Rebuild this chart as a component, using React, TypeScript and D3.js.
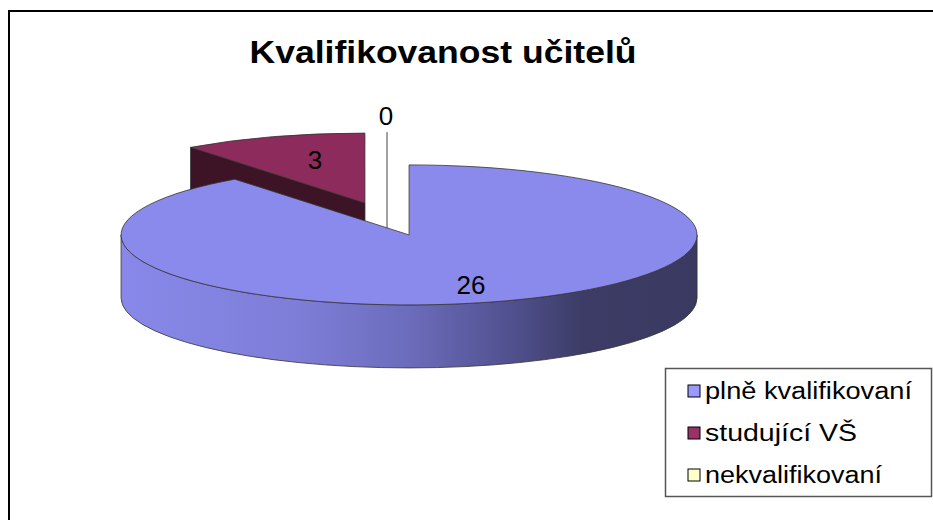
import React from "react";
import * as d3 from "d3";

const title = "Kvalifikovanost učitelů";
const categories = ["plně kvalifikovaní", "studující VŠ", "nekvalifikovaní"];
const values = [26, 3, 0];
const topColors = ["#8a8aec", "#8d2b5c", "#ffffcc"];
const legendColors = ["#9999ff", "#993366", "#ffffcc"];
const legendWidths = [207, 152, 177];

const W = 933;
const H = 520;
const CX = 387;
const CY = 219;
const RX = 288;
const RY = 70;
const T = 63;
const EXPLODE = 0.24;

function pt(cx: number, cy: number, a: number, k = 1) {
  return [cx + RX * k * Math.sin(a), cy - RY * k * Math.cos(a)];
}

function topPath(cx: number, cy: number, a0: number, a1: number) {
  const [x0, y0] = pt(cx, cy, a0);
  const [x1, y1] = pt(cx, cy, a1);
  const large = a1 - a0 > Math.PI ? 1 : 0;
  return `M${cx},${cy} L${x0},${y0} A${RX},${RY} 0 ${large} 1 ${x1},${y1} Z`;
}

function wallPath(cx: number, cy: number, a: number) {
  const [x, y] = pt(cx, cy, a);
  return `M${cx},${cy} L${x},${y} L${x},${y + T} L${cx},${cy + T} Z`;
}

function sidePath(cx: number, cy: number, a0: number, a1: number) {
  const s = Math.max(a0, Math.PI / 2);
  const e = Math.min(a1, (3 * Math.PI) / 2);
  if (e <= s) return "";
  const [x0, y0] = pt(cx, cy, s);
  const [x1, y1] = pt(cx, cy, e);
  return `M${x0},${y0} A${RX},${RY} 0 0 1 ${x1},${y1} L${x1},${y1 + T} A${RX},${RY} 0 0 0 ${x0},${y0 + T} Z`;
}

export default function App() {
  const pie = d3.pie<number>().sort(null).value((d) => d);
  const arcs = pie(values);
  const centers = arcs.map((a) => {
    const mid = (a.startAngle + a.endAngle) / 2;
    return [CX + RX * EXPLODE * Math.sin(mid), CY - RY * EXPLODE * Math.cos(mid)];
  });
  const blue = arcs[0];
  const [bx, by] = centers[0];
  const maroon = arcs[1];
  const [mx, my] = centers[1];
  const zero = arcs[2];
  const [zx, zy] = centers[2];
  const [zTopX, zTopY] = pt(zx, zy, zero.startAngle);

  const labelPos = [
    [471, 285],
    [315, 160],
    [386, 116],
  ];

  return (
    <svg width={W} height={H} style={{ position: "absolute", left: 0, top: 0 }}>
      <defs>
        <linearGradient id="sideGrad" gradientUnits="userSpaceOnUse" x1={bx - RX} x2={bx + RX} y1={0} y2={0}>
          <stop offset="0" stopColor="#8888ea" />
          <stop offset="0.3" stopColor="#7e7ed8" />
          <stop offset="0.5" stopColor="#6c6cbc" />
          <stop offset="0.68" stopColor="#50508e" />
          <stop offset="0.8" stopColor="#3c3c66" />
          <stop offset="1" stopColor="#393961" />
        </linearGradient>
      </defs>
      <rect x={0} y={0} width={W} height={H} fill="#fff" />
      <rect x={9} y={11} width={W + 20} height={H + 20} fill="#fff" stroke="#000" strokeWidth={2} />
      <text
        x={443}
        y={63}
        textAnchor="middle"
        fontFamily="Liberation Sans, Arial, sans-serif"
        fontWeight="bold"
        fontSize={31}
        textLength={387}
        lengthAdjust="spacingAndGlyphs"
      >
        {title}
      </text>

      {/* maroon slice (back) */}
      <path d={wallPath(mx, my, maroon.startAngle)} fill="#3d1426" stroke="#222" strokeWidth={0.8} />
      <path d={topPath(mx, my, maroon.startAngle, maroon.endAngle)} fill={topColors[1]} stroke="#333" strokeWidth={0.8} />

      {/* zero slice */}
      <line x1={zx} y1={zy + T} x2={zTopX} y2={zTopY} stroke="#444" strokeWidth={1} />

      {/* blue slice */}
      <path d={sidePath(bx, by, blue.startAngle, blue.endAngle)} fill="url(#sideGrad)" stroke="#333" strokeWidth={0.8} />
      <path d={topPath(bx, by, blue.startAngle, blue.endAngle)} fill={topColors[0]} stroke="#333" strokeWidth={0.8} />

      {values.map((v, i) => (
        <text
          key={i}
          x={labelPos[i][0]}
          y={labelPos[i][1]}
          dy="0.35em"
          textAnchor="middle"
          fontFamily="Liberation Sans, Arial, sans-serif"
          fontSize={26}
        >
          {v}
        </text>
      ))}

      <rect x={665.5} y={368.5} width={266} height={128} fill="#fff" stroke="#555" strokeWidth={1.5} />
      {categories.map((c, i) => {
        const yc = 391 + i * 42;
        return (
          <g key={c}>
            <rect x={688} y={yc - 6} width={12} height={12} fill={legendColors[i]} stroke="#000" strokeWidth={1} />
            <text
              x={705}
              y={yc}
              dy="0.35em"
              fontFamily="Liberation Sans, Arial, sans-serif"
              fontSize={23}
              textLength={legendWidths[i]}
              lengthAdjust="spacingAndGlyphs"
            >
              {c}
            </text>
          </g>
        );
      })}
    </svg>
  );
}
